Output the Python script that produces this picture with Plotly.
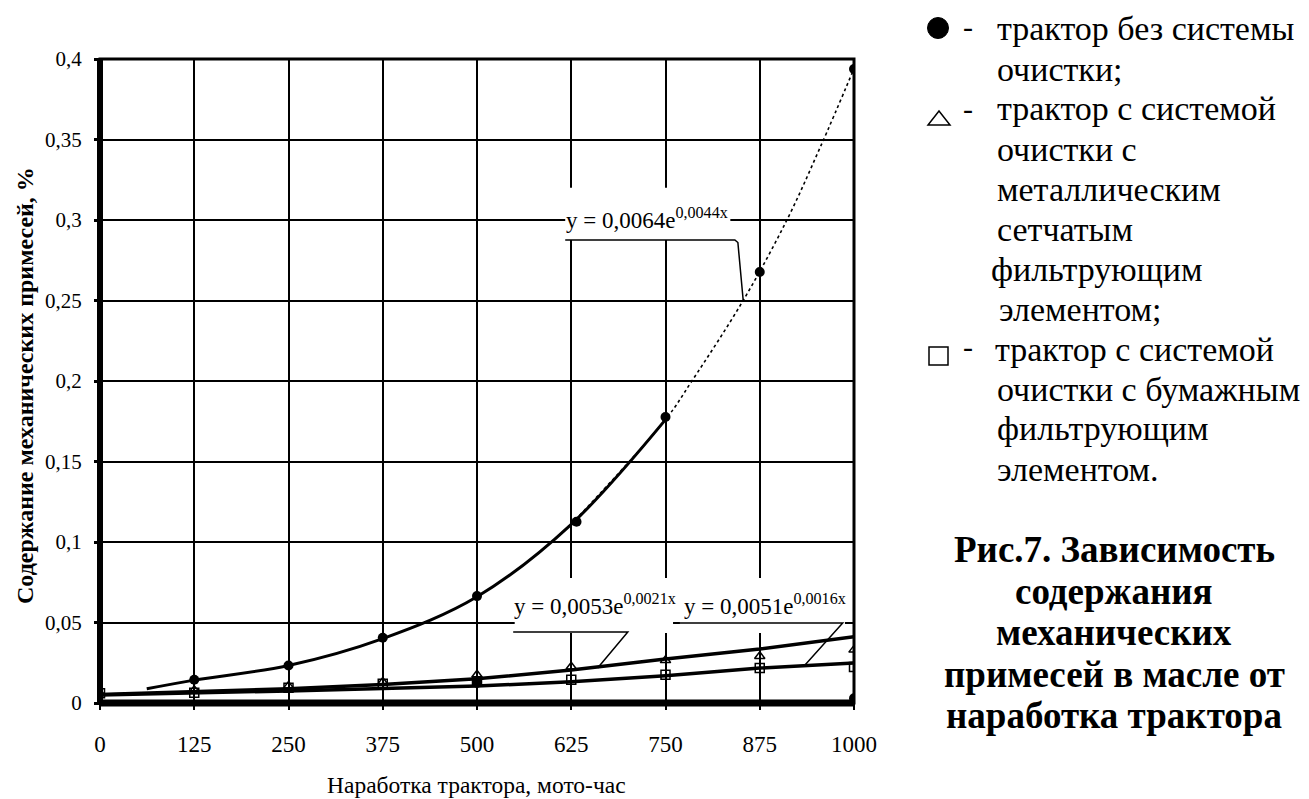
import plotly.graph_objects as go

# ---------------- data ----------------
x_ticks = [0, 125, 250, 375, 500, 625, 750, 875, 1000]
x_tick_labels = ["0", "125", "250", "375", "500", "625", "750", "875", "1000"]
y_ticks = [0, 0.05, 0.1, 0.15, 0.2, 0.25, 0.3, 0.35, 0.4]
y_tick_labels = ["0", "0,05", "0,1", "0,15", "0,2", "0,25", "0,3", "0,35", "0,4"]

circle_x = [125, 250, 375, 500, 632, 750, 875, 1000]
circle_y = [0.0144, 0.0233, 0.0405, 0.0664, 0.1126, 0.1776, 0.2677, 0.3938]
extra_circle_x = [500, 1000]
extra_circle_y = [0.0125, 0.003]

triangle_x = [0, 125, 250, 375, 500, 625, 750, 875, 1000]
triangle_y = [0.006, 0.008, 0.0105, 0.013, 0.0175, 0.0225, 0.0265, 0.029, 0.033]

square_x = [0, 125, 250, 375, 500, 625, 750, 875, 1000]
square_y = [0.006, 0.0063, 0.0095, 0.012, 0.0135, 0.0145, 0.0175, 0.0217, 0.0224]

trend_circle_x = [62, 125, 250, 375, 500, 625, 750]
trend_circle_y = [0.0088, 0.0142, 0.0233, 0.040, 0.066, 0.111, 0.176]
trend_circle_upper_x = [625, 750, 785, 853, 911, 956, 1000]
trend_circle_upper_y = [0.111, 0.176, 0.2, 0.25, 0.3, 0.346, 0.394]

trend_tri_x = [0, 125, 250, 375, 500, 625, 750, 875, 1000]
trend_tri_y = [0.0053, 0.0068, 0.0088, 0.0115, 0.015, 0.0205, 0.0273, 0.0335, 0.0412]
trend_sq_x = [0, 125, 250, 375, 500, 625, 750, 875, 1000]
trend_sq_y = [0.005, 0.006, 0.0075, 0.009, 0.0105, 0.0132, 0.017, 0.0217, 0.0248]

eq_texts = ["y = 0,0064e<sup>0,0044x</sup>",
            "y = 0,0053e<sup>0,0021x</sup>",
            "y = 0,0051e<sup>0,0016x</sup>"]

legend_lines = [
    "трактор без системы", "очистки;",
    "трактор с системой", "очистки с", "металлическим", "сетчатым",
    "фильтрующим", "элементом;",
    "трактор с системой", "очистки с бумажным", "фильтрующим", "элементом.",
]
caption_lines = ["Рис.7. Зависимость", "содержания", "механических",
                 "примесей в масле от", "наработка трактора"]

x_title = "Наработка трактора, мото-час"
y_title = "Содержание механических примесей, %"

# ---------------- layout geometry ----------------
W, H = 1309, 799
L, R, T, B = 100, 455, 59, 96
PW, PH = W - L - R, H - T - B
FONT = "Liberation Serif"


def px(xp):
    return (xp - L) / PW


def py(yp):
    return (H - B - yp) / PH


fig = go.Figure()

fig.add_trace(go.Scatter(x=trend_sq_x, y=trend_sq_y, mode="lines",
                         line=dict(color="black", width=3.5), hoverinfo="skip"))
fig.add_trace(go.Scatter(x=trend_tri_x, y=trend_tri_y, mode="lines",
                         line=dict(color="black", width=3.5), hoverinfo="skip"))
fig.add_trace(go.Scatter(x=trend_circle_upper_x, y=trend_circle_upper_y, mode="lines",
                         line=dict(color="black", width=1.6, shape="spline", dash="dot"),
                         hoverinfo="skip"))
fig.add_trace(go.Scatter(x=trend_circle_x, y=trend_circle_y, mode="lines",
                         line=dict(color="black", width=3, shape="spline"), hoverinfo="skip"))

fig.add_trace(go.Scatter(x=square_x, y=square_y, mode="markers",
                         marker=dict(symbol="square-open", size=9, color="black",
                                     line=dict(width=1.5, color="black"))))
fig.add_trace(go.Scatter(x=triangle_x, y=triangle_y, mode="markers",
                         marker=dict(symbol="triangle-up-open", size=9, color="black",
                                     line=dict(width=1.5, color="black"))))
fig.add_trace(go.Scatter(x=circle_x, y=circle_y, mode="markers",
                         marker=dict(symbol="circle", size=10, color="black")))
fig.add_trace(go.Scatter(x=extra_circle_x, y=extra_circle_y, mode="markers",
                         marker=dict(symbol="circle", size=10, color="black")))

shapes = []
# white boxes behind equation labels (hide gridlines)
for (x0, x1, y0, y1) in [(617, 836, 0.2876, 0.320), (550, 760, 0.0435, 0.0776),
                         (769, 988, 0.0435, 0.0776)]:
    shapes.append(dict(type="rect", xref="x", yref="y", x0=x0, x1=x1, y0=y0, y1=y1,
                       fillcolor="white", line=dict(width=0), layer="between"))
# underline + leader lines
for pts in [[(617, 0.2876), (842, 0.2876), (846, 0.286), (853, 0.2503)],
            [(548, 0.0441), (700, 0.0441), (660, 0.0217)],
            [(767, 0.0497), (985, 0.0497), (935, 0.0236)]]:
    path = "M " + " L ".join(f"{a},{b}" for a, b in pts)
    shapes.append(dict(type="path", xref="x", yref="y", path=path,
                       line=dict(color="black", width=1.5), layer="above"))
# frame
shapes.append(dict(type="rect", xref="paper", yref="paper", x0=0, x1=1, y0=0, y1=1,
                   line=dict(color="black", width=3), layer="above"))
shapes.append(dict(type="line", xref="paper", yref="paper", x0=0, x1=0, y0=0, y1=1,
                   line=dict(color="black", width=6), layer="above"))
shapes.append(dict(type="line", xref="paper", yref="paper", x0=0, x1=1, y0=0, y1=0,
                   line=dict(color="black", width=7), layer="above"))

# legend symbols
shapes.append(dict(type="circle", xref="paper", yref="paper",
                   x0=px(927.5), x1=px(948.5), y0=py(38.5), y1=py(17.5),
                   fillcolor="black", line=dict(color="black", width=1)))
shapes.append(dict(type="path", xref="paper", yref="paper",
                   path=f"M {px(928)},{py(125)} L {px(950)},{py(125)} L {px(939)},{py(111)} Z",
                   line=dict(color="black", width=1.5)))
shapes.append(dict(type="rect", xref="paper", yref="paper",
                   x0=px(929), x1=px(948), y0=py(365), y1=py(347),
                   line=dict(color="black", width=1.5)))

annotations = []
# equations
for txt, xc, yc in zip(eq_texts, [726, 656, 882], [0.301, 0.061, 0.061]):
    annotations.append(dict(x=xc, y=yc, xref="x", yref="y", text=txt, showarrow=False,
                            xanchor="center", yanchor="middle",
                            font=dict(family=FONT, size=23, color="black")))

# legend text
legend_x = [995, 995, 995, 995, 995, 995, 989, 997, 993, 995, 995, 995]
legend_y = [28, 70, 109, 149, 189, 229, 269, 309, 349, 389, 429, 469]
for t, xl, yl in zip(legend_lines, legend_x, legend_y):
    annotations.append(dict(x=px(xl), y=py(yl), xref="paper", yref="paper", text=t,
                            showarrow=False, xanchor="left", yanchor="middle",
                            font=dict(family=FONT, size=34, color="black")))
for yl in [27, 109, 346]:
    annotations.append(dict(x=px(968), y=py(yl), xref="paper", yref="paper", text="-",
                            showarrow=False, xanchor="center", yanchor="middle",
                            font=dict(family=FONT, size=30, color="black")))

# caption
for t, yl in zip(caption_lines, [549, 591, 632, 674, 715]):
    annotations.append(dict(x=px(1114), y=py(yl), xref="paper", yref="paper", text=f"<b>{t}</b>",
                            showarrow=False, xanchor="center", yanchor="middle",
                            font=dict(family=FONT, size=37, color="black")))

# axis titles
annotations.append(dict(x=px(476), y=py(785), xref="paper", yref="paper", text=x_title,
                        showarrow=False, xanchor="center", yanchor="middle",
                        font=dict(family=FONT, size=23.5, color="black")))
annotations.append(dict(x=px(25), y=py(386), xref="paper", yref="paper", text=f"<b>{y_title}</b>",
                        showarrow=False, xanchor="center", yanchor="middle", textangle=-90,
                        font=dict(family=FONT, size=24, color="black")))

fig.update_layout(
    width=W, height=H,
    margin=dict(l=L, r=R, t=T, b=B, pad=0),
    paper_bgcolor="white", plot_bgcolor="white",
    showlegend=False,
    shapes=shapes, annotations=annotations,
    font=dict(family=FONT, color="black"),
    xaxis=dict(range=[0, 1000], tickvals=x_ticks, ticktext=x_tick_labels,
               showgrid=True, gridcolor="black", gridwidth=1.5, zeroline=False,
               showline=False, ticks="outside", ticklen=6, tickwidth=2, tickcolor="black",
               ticklabelstandoff=14,
               tickfont=dict(family=FONT, size=23, color="black")),
    yaxis=dict(range=[0, 0.4], tickvals=y_ticks, ticktext=y_tick_labels,
               showgrid=True, gridcolor="black", gridwidth=1.5, zeroline=False,
               showline=False, ticks="outside", ticklen=5, tickwidth=3, tickcolor="black",
               ticklabelstandoff=8,
               tickfont=dict(family=FONT, size=21, color="black")),
)

fig.write_html("out.html")
